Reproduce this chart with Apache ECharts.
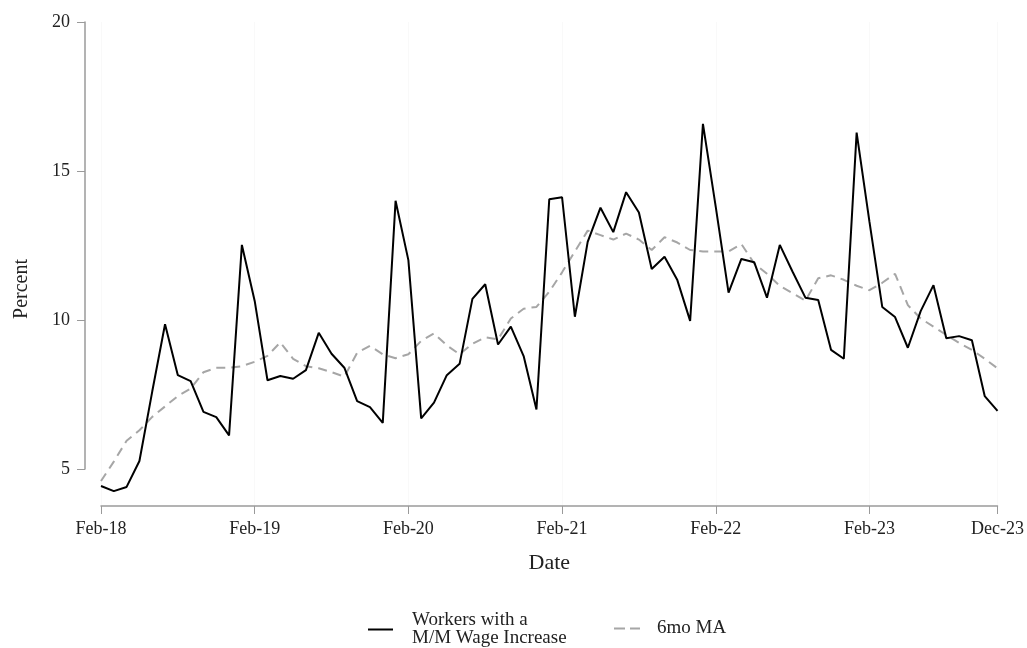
<!DOCTYPE html>
<html>
<head>
<meta charset="utf-8">
<script src="https://cdn.jsdelivr.net/npm/echarts@6/dist/echarts.min.js"></script>
<style>
  html, body { margin: 0; padding: 0; background: #fff; }
  #chart { width: 1027px; height: 648px; }
</style>
</head>
<body>
<div id="chart"></div>
<script>
// Monthly categories Feb-18 .. Dec-23
const monthNames = ['Jan','Feb','Mar','Apr','May','Jun','Jul','Aug','Sep','Oct','Nov','Dec'];
const categories = [];
for (let y = 2018; y <= 2023; y++) {
  for (let m = 0; m < 12; m++) {
    if (y === 2018 && m < 1) continue;
    categories.push(monthNames[m] + '-' + String(y).slice(2));
  }
}
const tickLabels = ['Feb-18', 'Feb-19', 'Feb-20', 'Feb-21', 'Feb-22', 'Feb-23', 'Dec-23'];
const yTicks = [5, 10, 15, 20];

const workers = [
  4.43, 4.26, 4.40, 5.27, 7.60, 9.86, 8.15, 7.95, 6.92, 6.74, 6.13, 12.52,
  10.64, 7.98, 8.12, 8.03, 8.32, 9.57, 8.87, 8.40, 7.28, 7.08, 6.55, 14.00,
  12.01, 6.70, 7.23, 8.15, 8.53, 10.71, 11.20, 9.18, 9.78, 8.79, 7.00, 14.05,
  14.12, 10.11, 12.62, 13.77, 12.95, 14.29, 13.61, 11.71, 12.12, 11.34, 9.97, 16.58,
  13.80, 10.92, 12.05, 11.94, 10.75, 12.52, 11.62, 10.75, 10.67, 9.00, 8.70, 16.29,
  13.30, 10.44, 10.10, 9.07, 10.30, 11.17, 9.39, 9.46, 9.32, 7.45, 6.95
];
const ma6 = [
  4.60, 5.25, 5.95, 6.30, 6.75, 7.10, 7.45, 7.70, 8.25, 8.40, 8.40, 8.45,
  8.60, 8.80, 9.25, 8.70, 8.45, 8.38, 8.25, 8.10, 8.90, 9.13, 8.85, 8.72,
  8.85, 9.30, 9.55, 9.15, 8.85, 9.20, 9.42, 9.35, 10.05, 10.38, 10.44, 10.95,
  11.60, 12.30, 13.00, 12.85, 12.70, 12.90, 12.70, 12.35, 12.78, 12.60, 12.35, 12.30,
  12.30, 12.30, 12.55, 11.90, 11.55, 11.15, 10.90, 10.65, 11.40, 11.50, 11.35, 11.15,
  11.00, 11.25, 11.55, 10.50, 10.05, 9.78, 9.50, 9.23, 9.00, 8.70, 8.38
];

const FONT = '"Liberation Serif", "DejaVu Serif", serif';
const AXIS_COLOR = '#9a9a9a';
const TEXT_COLOR = '#222';

const chart = echarts.init(document.getElementById('chart'), null, { renderer: 'canvas' });

const option = {
  backgroundColor: '#ffffff',
  animation: false,
  textStyle: { fontFamily: FONT, color: TEXT_COLOR },
  grid: [
    { left: 101, right: 29, top: 22, bottom: 142, containLabel: false },
    { left: 85, width: 10, top: 22, bottom: 179, containLabel: false }
  ],
  xAxis: [
    {
      gridIndex: 0,
      type: 'category',
      data: categories,
      boundaryGap: false,
      name: 'Date',
      nameLocation: 'middle',
      nameGap: 46,
      nameTextStyle: { fontFamily: FONT, fontSize: 22, color: TEXT_COLOR },
      axisLine: { show: true, lineStyle: { color: AXIS_COLOR, width: 1.5 } },
      axisTick: {
        show: true, length: 8,
        interval: function (idx, val) { return tickLabels.indexOf(val) >= 0; },
        lineStyle: { color: AXIS_COLOR, width: 1 }
      },
      axisLabel: {
        show: true, margin: 14,
        interval: function (idx, val) { return tickLabels.indexOf(val) >= 0; },
        fontFamily: FONT, fontSize: 18, color: TEXT_COLOR
      },
      splitLine: {
        show: true,
        interval: function (idx, val) { return tickLabels.indexOf(val) >= 0; },
        lineStyle: { color: '#f9f9f9', width: 1 }
      }
    },
    { gridIndex: 1, type: 'value', show: false, min: 0, max: 1 }
  ],
  yAxis: [
    {
      gridIndex: 0,
      type: 'value',
      min: 3.76, max: 20,
      axisLine: { show: false },
      axisTick: { show: false },
      axisLabel: { show: false },
      splitLine: { show: false }
    },
    {
      gridIndex: 1,
      type: 'value',
      min: 5, max: 20, interval: 5,
      position: 'left',
      axisLine: { show: true, lineStyle: { color: AXIS_COLOR, width: 1.5 } },
      axisTick: { show: true, length: 8, lineStyle: { color: AXIS_COLOR, width: 1 } },
      axisLabel: {
        margin: 15, fontFamily: FONT, fontSize: 18, color: TEXT_COLOR,
        formatter: function (v) { return yTicks.indexOf(v) >= 0 ? String(v) : ''; }
      },
      splitLine: { show: false }
    }
  ],
  legend: [
    {
      left: 368, top: 611, padding: 0,
      itemWidth: 25, itemHeight: 2,
      data: [{ name: 'Workers with a\nM/M Wage Increase', icon: 'path://M0,0H25V2H0Z' }],
      textStyle: { fontFamily: FONT, fontSize: 19, color: TEXT_COLOR, lineHeight: 18, padding: [0, 0, 0, 14] }
    },
    {
      left: 614, top: 619, padding: 0,
      itemWidth: 26, itemHeight: 2,
      data: [{ name: '6mo MA', icon: 'path://M0,0H11V2H0Z M16,0H26V2H16Z' }],
      textStyle: { fontFamily: FONT, fontSize: 19, color: TEXT_COLOR, padding: [0, 0, 0, 12] }
    }
  ],
  graphic: [
    {
      type: 'text',
      left: 12, top: 259,
      rotation: Math.PI / 2,
      style: { text: 'Percent', fontFamily: FONT, fontSize: 20, fill: TEXT_COLOR }
    }
  ],
  series: [
    {
      name: 'Workers with a\nM/M Wage Increase',
      type: 'line',
      xAxisIndex: 0, yAxisIndex: 0,
      data: workers,
      symbol: 'none',
      lineStyle: { color: '#000000', width: 2 },
      itemStyle: { color: '#000000' },
      z: 3
    },
    {
      name: '6mo MA',
      type: 'line',
      xAxisIndex: 0, yAxisIndex: 0,
      data: ma6,
      symbol: 'none',
      lineStyle: { color: '#a6a6a6', width: 2, type: [9, 6] },
      itemStyle: { color: '#a6a6a6' },
      z: 2
    }
  ]
};
chart.setOption(option);
</script>
</body>
</html>
